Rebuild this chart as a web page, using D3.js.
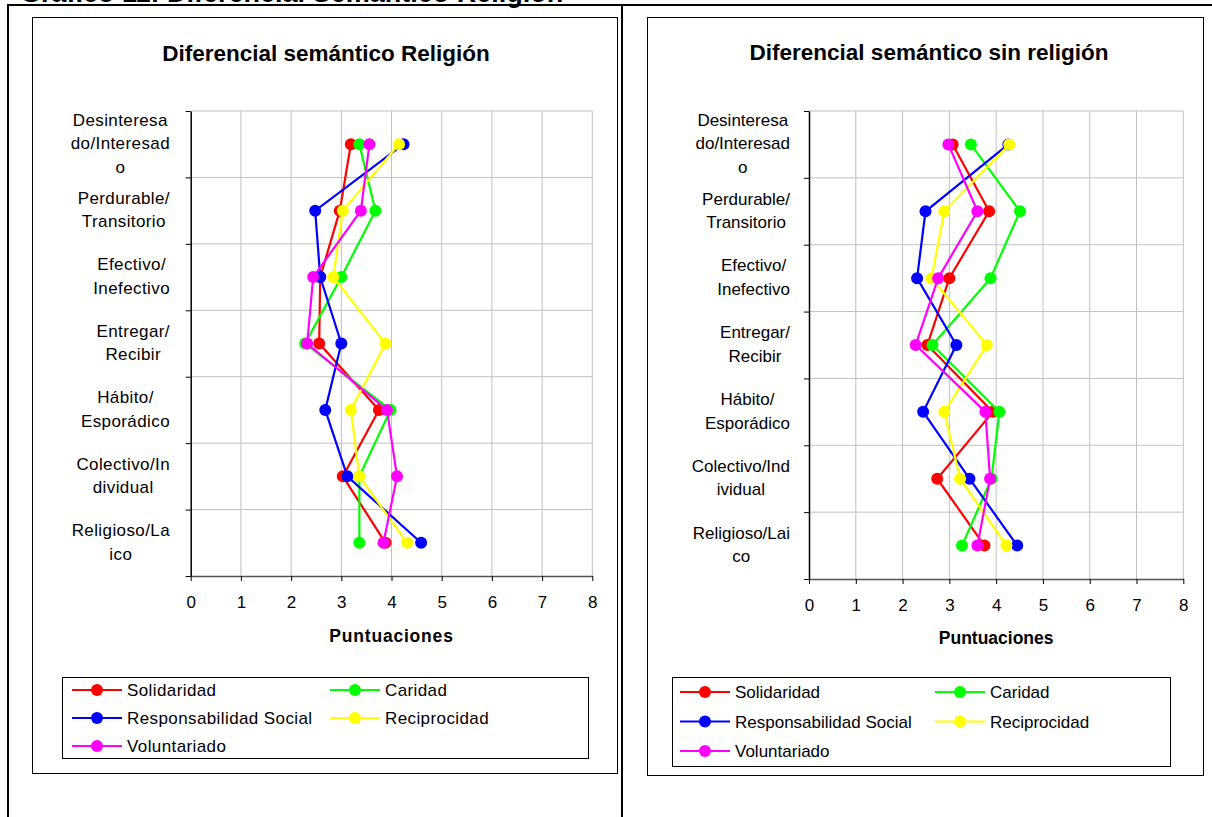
<!DOCTYPE html>
<html>
<head>
<meta charset="utf-8">
<script src="https://cdn.jsdelivr.net/npm/d3@7"></script>
<style>
  html, body { margin: 0; padding: 0; background: #fff; }
  svg { display: block; font-family: Arial, "Liberation Sans", sans-serif; }
</style>
</head>
<body>
<svg id="page" width="1212" height="817"></svg>
<script>
// Semantic-differential pairs (top to bottom)
const categories = [
  "Desinteresado/Interesado", "Perdurable/Transitorio", "Efectivo/Inefectivo",
  "Entregar/Recibir", "Hábito/Esporádico", "Colectivo/Individual", "Religioso/Laico"
];
// Wrapped axis labels as they are broken in each chart
const labelsReligion = [
  ["Desinteresa", "do/Interesad", "o"], ["Perdurable/", "Transitorio"], ["Efectivo/", "Inefectivo"],
  ["Entregar/", "Recibir"], ["Hábito/", "Esporádico"], ["Colectivo/In", "dividual"], ["Religioso/La", "ico"]
];
const labelsSinReligion = [
  ["Desinteresa", "do/Interesad", "o"], ["Perdurable/", "Transitorio"], ["Efectivo/", "Inefectivo"],
  ["Entregar/", "Recibir"], ["Hábito/", "Esporádico"], ["Colectivo/Ind", "ividual"], ["Religioso/Lai", "co"]
];

const seriesNames = ["Solidaridad", "Caridad", "Responsabilidad Social", "Reciprocidad", "Voluntariado"];
const seriesColors = ["#ff0000", "#00ff00", "#0000ff", "#ffff00", "#ff00ff"];

const xTicks = [0, 1, 2, 3, 4, 5, 6, 7, 8];

// Mean scores, chart "Religión"
const religionSolidaridad   = [3.19, 2.97, 2.58, 2.56, 3.75, 3.03, 3.88];
const religionCaridad       = [3.36, 3.68, 3.00, 2.28, 3.98, 3.36, 3.36];
const religionResponsab     = [4.24, 2.48, 2.58, 3.00, 2.68, 3.12, 4.59];
const religionReciprocidad  = [4.15, 3.03, 2.84, 3.88, 3.19, 3.36, 4.31];
const religionVoluntariado  = [3.56, 3.39, 2.44, 2.32, 3.91, 4.11, 3.84];

// Mean scores, chart "sin religión"
const sinSolidaridad   = [3.07, 3.85, 3.00, 2.53, 3.93, 2.74, 3.75];
const sinCaridad       = [3.46, 4.51, 3.88, 2.64, 4.07, 3.90, 3.27];
const sinResponsab     = [4.26, 2.49, 2.31, 3.15, 2.44, 3.43, 4.45];
const sinReciprocidad  = [4.28, 2.89, 2.62, 3.80, 2.89, 3.23, 4.22];
const sinVoluntariado  = [2.98, 3.60, 2.76, 2.28, 3.77, 3.87, 3.60];

const svg = d3.select("#page");

// Page frame with the figure caption running off the top edge
svg.append("text").attr("x", 20).attr("y", 2)
  .attr("font-size", 27).attr("font-weight", "bold")
  .text("Gráfico 11: Diferencial Semántico Religión");
svg.append("line").attr("x1", 8).attr("x2", 1212).attr("y1", 5).attr("y2", 5)
  .attr("stroke", "#000").attr("stroke-width", 2);
svg.append("line").attr("x1", 8).attr("x2", 8).attr("y1", 4).attr("y2", 817)
  .attr("stroke", "#000").attr("stroke-width", 2);
svg.append("line").attr("x1", 622).attr("x2", 622).attr("y1", 4).attr("y2", 817)
  .attr("stroke", "#000").attr("stroke-width", 2);

function drawChart(cfg) {
  const g = svg.append("g");
  const ls = cfg.letterSpacing || 0;

  // chart area border
  g.append("rect").attr("x", cfg.box[0] + 0.5).attr("y", cfg.box[1] + 0.5)
    .attr("width", cfg.box[2]).attr("height", cfg.box[3])
    .attr("fill", "#fff").attr("stroke", "#000").attr("stroke-width", 1);

  g.append("text").attr("x", cfg.titleX).attr("y", cfg.titleY)
    .attr("text-anchor", "middle").attr("font-size", 22.5).attr("font-weight", "bold")
    .text(cfg.title);

  const x = d3.scaleLinear().domain([0, 8]).range([cfg.x0, cfg.x1]);
  const y = d3.scaleBand().domain(categories).range([cfg.y0, cfg.y1]).padding(0);
  const yIdx = d3.scaleLinear().domain([0, categories.length]).range([cfg.y0, cfg.y1]);

  // grid
  g.append("g").selectAll("line").data(xTicks.slice(1)).join("line")
    .attr("x1", d => x(d)).attr("x2", d => x(d))
    .attr("y1", cfg.y0).attr("y2", cfg.y1)
    .attr("stroke", "#c0c0c0").attr("stroke-width", 1);
  g.append("g").selectAll("line").data(d3.range(0, categories.length)).join("line")
    .attr("x1", cfg.x0).attr("x2", cfg.x1)
    .attr("y1", d => yIdx(d)).attr("y2", d => yIdx(d))
    .attr("stroke", "#c0c0c0").attr("stroke-width", 1);

  // x axis
  const xAxis = g.append("g").attr("transform", `translate(0,${cfg.y1})`)
    .call(d3.axisBottom(x).tickValues(xTicks).tickSize(5).tickPadding(15).tickSizeOuter(0));
  xAxis.select(".domain").attr("stroke", "#555").attr("stroke-width", 1.5);
  xAxis.selectAll(".tick line").attr("stroke", "#000");
  xAxis.selectAll(".tick text").attr("font-size", 17).attr("fill", "#000")
    .attr("font-family", "Arial, 'Liberation Sans', sans-serif");

  // y axis (ticks at category boundaries)
  const yAxis = g.append("g").attr("transform", `translate(${cfg.x0},0)`)
    .call(d3.axisLeft(yIdx).tickValues(d3.range(0, categories.length + 1))
      .tickSize(5).tickFormat("").tickSizeOuter(0));
  yAxis.select(".domain").attr("stroke", "#000").attr("stroke-width", 1.5);
  yAxis.selectAll(".tick line").attr("stroke", "#000");

  // category labels: wrapped lines centred within a right-aligned block
  cfg.labels.forEach((lines, i) => {
    const cy = y(categories[i]) + y.bandwidth() / 2;
    const lh = 23.5;
    const t = g.append("text").attr("font-size", 17).attr("text-anchor", "middle")
      .style("letter-spacing", ls + "px");
    const spans = lines.map((s, k) => t.append("tspan").text(s)
      .attr("y", cy + (k - (lines.length - 1) / 2) * lh + 5));
    let w = 0;
    spans.forEach(sp => { w = Math.max(w, sp.node().getComputedTextLength()); });
    spans.forEach(sp => sp.attr("x", cfg.labelRight - w / 2));
  });

  g.append("text").attr("x", (cfg.x0 + cfg.x1) / 2).attr("y", cfg.axisTitleY)
    .attr("text-anchor", "middle").attr("font-size", 17.5).attr("font-weight", "bold")
    .style("letter-spacing", (ls * 2) + "px")
    .text("Puntuaciones");

  // series lines and markers
  const line = d3.line()
    .x(d => x(d.v))
    .y(d => y(d.c) + y.bandwidth() / 2);
  cfg.series.forEach((vals, s) => {
    const pts = vals.map((v, i) => ({ v, c: categories[i] }));
    const sg = g.append("g");
    sg.append("path").datum(pts).attr("d", line)
      .attr("fill", "none").attr("stroke", seriesColors[s]).attr("stroke-width", 2.2);
    sg.selectAll("circle").data(pts).join("circle")
      .attr("cx", d => x(d.v)).attr("cy", d => y(d.c) + y.bandwidth() / 2)
      .attr("r", 6).attr("fill", seriesColors[s]);
  });

  // legend
  const L = cfg.legend;
  g.append("rect").attr("x", L.x + 0.5).attr("y", L.y + 0.5).attr("width", L.w).attr("height", L.h)
    .attr("fill", "#fff").attr("stroke", "#000").attr("stroke-width", 1);
  seriesNames.forEach((name, s) => {
    const col = s % 2, row = Math.floor(s / 2);
    const lx = L.x + L.pad + col * L.colW;
    const ly = L.y + L.rowY0 + row * L.rowH;
    g.append("line").attr("x1", lx).attr("x2", lx + 50).attr("y1", ly).attr("y2", ly)
      .attr("stroke", seriesColors[s]).attr("stroke-width", 2.2);
    g.append("circle").attr("cx", lx + 25).attr("cy", ly).attr("r", 6).attr("fill", seriesColors[s]);
    g.append("text").attr("x", lx + 55).attr("y", ly + 6).attr("font-size", 17)
      .style("letter-spacing", ls + "px").text(name);
  });
}

drawChart({
  title: "Diferencial semántico Religión",
  box: [32, 17, 585, 756],
  titleX: 326, titleY: 61,
  x0: 190.7, x1: 592.3, y0: 111, y1: 576,
  labelRight: 170, axisTitleY: 642,
  letterSpacing: 0.4,
  labels: labelsReligion,
  series: [religionSolidaridad, religionCaridad, religionResponsab, religionReciprocidad, religionVoluntariado],
  legend: { x: 62, y: 677, w: 526, h: 81, pad: 10, colW: 258, rowY0: 13, rowH: 28 }
});

drawChart({
  title: "Diferencial semántico sin religión",
  box: [647, 17, 556, 758],
  titleX: 929, titleY: 60,
  x0: 809, x1: 1183.3, y0: 111, y1: 579,
  labelRight: 790, axisTitleY: 644,
  letterSpacing: 0,
  labels: labelsSinReligion,
  series: [sinSolidaridad, sinCaridad, sinResponsab, sinReciprocidad, sinVoluntariado],
  legend: { x: 672, y: 677, w: 498, h: 89, pad: 8, colW: 255, rowY0: 15, rowH: 29.5 }
});
</script>
</body>
</html>
